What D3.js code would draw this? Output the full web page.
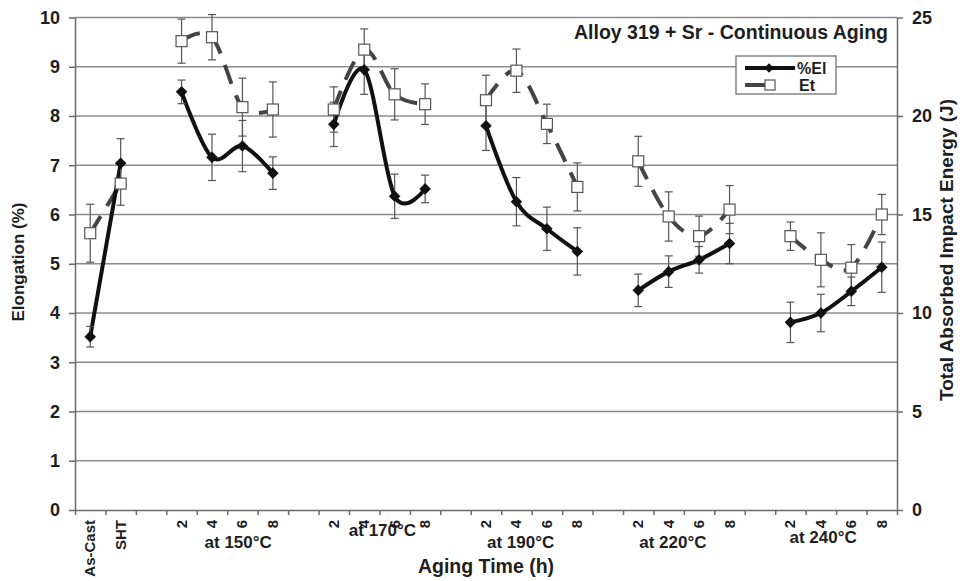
<!DOCTYPE html>
<html>
<head>
<meta charset="utf-8">
<script src="https://cdnjs.cloudflare.com/ajax/libs/d3/7.8.5/d3.min.js"></script>
<style>
  body { margin: 0; background: #fff; }
  svg text { font-family: "Liberation Sans", Arial, sans-serif; fill: #1e1e1e; }
</style>
</head>
<body>
<div id="chart"></div>
<script>
// x categories (blank slots separate the temperature groups)
var categories = ["As-Cast", "SHT", "", "2", "4", "6", "8", "", "2", "4", "6", "8", "",
                  "2", "4", "6", "8", "", "2", "4", "6", "8", "", "2", "4", "6", "8"];
var groupLabels = ["at 150°C", "at 170°C", "at 190°C", "at 220°C", "at 240°C"];
var groupStart = [3, 8, 13, 18, 23];

// %El (left axis)
var elong    = [3.52, 7.04, null, 8.49, 7.16, 7.39, 6.84, null, 7.83, 8.94, 6.37, 6.52, null,
                7.80, 6.26, 5.71, 5.25, null, 4.46, 4.84, 5.08, 5.41, null, 3.81, 4.00, 4.44, 4.93];
var elongErr = [0.21, 0.50, null, 0.24, 0.47, 0.52, 0.33, null, 0.45, 0.50, 0.45, 0.28, null,
                0.50, 0.49, 0.44, 0.48, null, 0.33, 0.32, 0.27, 0.41, null, 0.41, 0.38, 0.29, 0.51];

// Et, total absorbed impact energy in J (right axis)
var energy    = [14.05, 16.57, null, 23.8, 24.0, 20.45, 20.33, null, 20.33, 23.37, 21.1, 20.6, null,
                 20.8, 22.3, 19.6, 16.4, null, 17.7, 14.9, 13.9, 15.25, null, 13.9, 12.7, 12.3, 15.0];
var energyErr = [1.47, 1.10, null, 1.12, 1.15, 1.47, 1.40, null, 1.15, 1.05, 1.30, 1.03, null,
                 1.27, 1.10, 1.00, 1.22, null, 1.27, 1.25, 1.02, 1.22, null, 0.72, 1.37, 1.17, 1.02];

var leftTicks = d3.range(0, 11, 1);
var rightTicks = d3.range(0, 26, 5);

// layout nudges for the group captions (as placed in the original figure)
var groupLabelNudge = [[11, 0], [3, -12], [-11, 0], [-11, 0], [-13, -5]];

var W = 960, H = 581;
var plotL = 75, plotR = 897, plotT = 17.5, plotB = 510;

var svg = d3.select("#chart").append("svg")
    .attr("width", W)
    .attr("height", H);

var xBand = d3.scaleBand()
    .domain(d3.range(categories.length))
    .range([plotL, plotR])
    .padding(0);

var xEdge = d3.scaleLinear()
    .domain([0, categories.length])
    .range([plotL, plotR]);

var yL = d3.scaleLinear().domain([0, 10]).range([plotB, plotT]);
var yR = d3.scaleLinear().domain([0, 25]).range([plotB, plotT]);

function cx(i) { return xBand(i) + xBand.bandwidth() / 2; }

// gridlines
svg.append("g")
    .selectAll("line")
    .data(leftTicks.filter(function(d) { return d > 0; }))
    .enter().append("line")
    .attr("x1", plotL).attr("x2", plotR)
    .attr("y1", function(d) { return yL(d); })
    .attr("y2", function(d) { return yL(d); })
    .attr("stroke", "#8c8c8c")
    .attr("stroke-width", 1.5);

// axes
var axL = svg.append("g")
    .attr("transform", "translate(" + plotL + ",0)")
    .call(d3.axisLeft(yL).tickValues(leftTicks).tickSize(6).tickPadding(9).tickSizeOuter(0));

var axR = svg.append("g")
    .attr("transform", "translate(" + plotR + ",0)")
    .call(d3.axisRight(yR).tickValues(rightTicks).tickSize(6).tickPadding(9).tickSizeOuter(0));

var axB = svg.append("g")
    .attr("transform", "translate(0," + plotB + ")")
    .call(d3.axisBottom(xEdge).tickValues(d3.range(categories.length + 1))
          .tickFormat("").tickSize(5).tickSizeOuter(0));

[axL, axR, axB].forEach(function(a) {
    a.selectAll("path, line").attr("stroke", "#6a6a6a").attr("stroke-width", 1.5);
    a.selectAll("text")
        .style("font-size", "18px")
        .style("font-weight", "bold")
        .attr("fill", "#1e1e1e");
});

// category labels (rotated)
svg.append("g")
    .selectAll("text")
    .data(categories)
    .enter().append("text")
    .attr("transform", function(d, i) { return "translate(" + (cx(i) + 5) + ",520) rotate(-90)"; })
    .attr("text-anchor", "end")
    .style("font-size", "15px")
    .style("font-weight", "bold")
    .text(function(d) { return d; });

// group captions
svg.append("g")
    .selectAll("text")
    .data(groupLabels)
    .enter().append("text")
    .attr("x", function(d, i) { return (cx(groupStart[i]) + cx(groupStart[i] + 3)) / 2 + groupLabelNudge[i][0]; })
    .attr("y", function(d, i) { return 548 + groupLabelNudge[i][1]; })
    .attr("text-anchor", "middle")
    .style("font-size", "17px")
    .style("font-weight", "bold")
    .text(function(d) { return d; });

// axis titles
svg.append("text")
    .attr("x", (plotL + plotR) / 2).attr("y", 573)
    .attr("text-anchor", "middle")
    .style("font-size", "19.5px").style("font-weight", "bold")
    .text("Aging Time (h)");

svg.append("text")
    .attr("transform", "translate(24,262) rotate(-90)")
    .attr("text-anchor", "middle")
    .style("font-size", "17px").style("font-weight", "bold")
    .text("Elongation (%)");

svg.append("text")
    .attr("transform", "translate(953,250) rotate(-90)")
    .attr("text-anchor", "middle")
    .style("font-size", "19px").style("font-weight", "bold")
    .text("Total Absorbed Impact Energy (J)");

// chart title
svg.append("text")
    .attr("x", 888).attr("y", 39)
    .attr("text-anchor", "end")
    .style("font-size", "19.5px").style("font-weight", "bold")
    .text("Alloy 319 + Sr - Continuous Aging");

// series lines
var curve = d3.curveCardinal.tension(0);

var etLine = d3.line()
    .defined(function(d) { return d != null; })
    .x(function(d, i) { return cx(i); })
    .y(function(d) { return yR(d); })
    .curve(curve);

var elLine = d3.line()
    .defined(function(d) { return d != null; })
    .x(function(d, i) { return cx(i); })
    .y(function(d) { return yL(d); })
    .curve(curve);

svg.append("path")
    .attr("d", etLine(energy))
    .attr("fill", "none")
    .attr("stroke", "#444")
    .attr("stroke-width", 4)
    .attr("stroke-dasharray", "20,12");

svg.append("path")
    .attr("d", elLine(elong))
    .attr("fill", "none")
    .attr("stroke", "#111")
    .attr("stroke-width", 4);

// error bars
function errorBars(vals, errs, scale) {
    var pts = vals.map(function(v, i) { return { i: i, v: v, e: errs[i] }; })
        .filter(function(d) { return d.v != null; });
    var g = svg.append("g").attr("stroke", "#555").attr("stroke-width", 1.2);
    pts.forEach(function(d) {
        var x = cx(d.i), y1 = scale(d.v + d.e), y2 = scale(d.v - d.e);
        g.append("line").attr("x1", x).attr("x2", x).attr("y1", y1).attr("y2", y2);
        g.append("line").attr("x1", x - 4).attr("x2", x + 4).attr("y1", y1).attr("y2", y1);
        g.append("line").attr("x1", x - 4).attr("x2", x + 4).attr("y1", y2).attr("y2", y2);
    });
}
errorBars(energy, energyErr, yR);
errorBars(elong, elongErr, yL);

// markers
svg.append("g")
    .selectAll("rect")
    .data(energy.map(function(v, i) { return { i: i, v: v }; }).filter(function(d) { return d.v != null; }))
    .enter().append("rect")
    .attr("x", function(d) { return cx(d.i) - 5.5; })
    .attr("y", function(d) { return yR(d.v) - 5.5; })
    .attr("width", 11).attr("height", 11)
    .attr("fill", "#fff")
    .attr("stroke", "#555")
    .attr("stroke-width", 1.2);

var diamond = d3.symbol().type(d3.symbolDiamond2).size(85);
svg.append("g")
    .selectAll("path")
    .data(elong.map(function(v, i) { return { i: i, v: v }; }).filter(function(d) { return d.v != null; }))
    .enter().append("path")
    .attr("d", diamond)
    .attr("transform", function(d) { return "translate(" + cx(d.i) + "," + yL(d.v) + ")"; })
    .attr("fill", "#111");

// legend
var lg = svg.append("g");
lg.append("rect")
    .attr("x", 736).attr("y", 56).attr("width", 100).attr("height", 38)
    .attr("fill", "#fff").attr("stroke", "#666").attr("stroke-width", 1.2);
lg.append("line").attr("x1", 745).attr("x2", 795).attr("y1", 68).attr("y2", 68)
    .attr("stroke", "#111").attr("stroke-width", 4);
lg.append("path").attr("d", d3.symbol().type(d3.symbolDiamond2).size(55))
    .attr("transform", "translate(769,68)").attr("fill", "#111");
lg.append("line").attr("x1", 745).attr("x2", 775).attr("y1", 85).attr("y2", 85)
    .attr("stroke", "#444").attr("stroke-width", 4);
lg.append("rect").attr("x", 765).attr("y", 80).attr("width", 10).attr("height", 10)
    .attr("fill", "#fff").attr("stroke", "#555").attr("stroke-width", 1.2);
lg.append("text").attr("x", 797).attr("y", 74)
    .style("font-size", "16px").style("font-weight", "bold").text("%El");
lg.append("text").attr("x", 799).attr("y", 91)
    .style("font-size", "16px").style("font-weight", "bold").text("Et");
</script>
</body>
</html>
